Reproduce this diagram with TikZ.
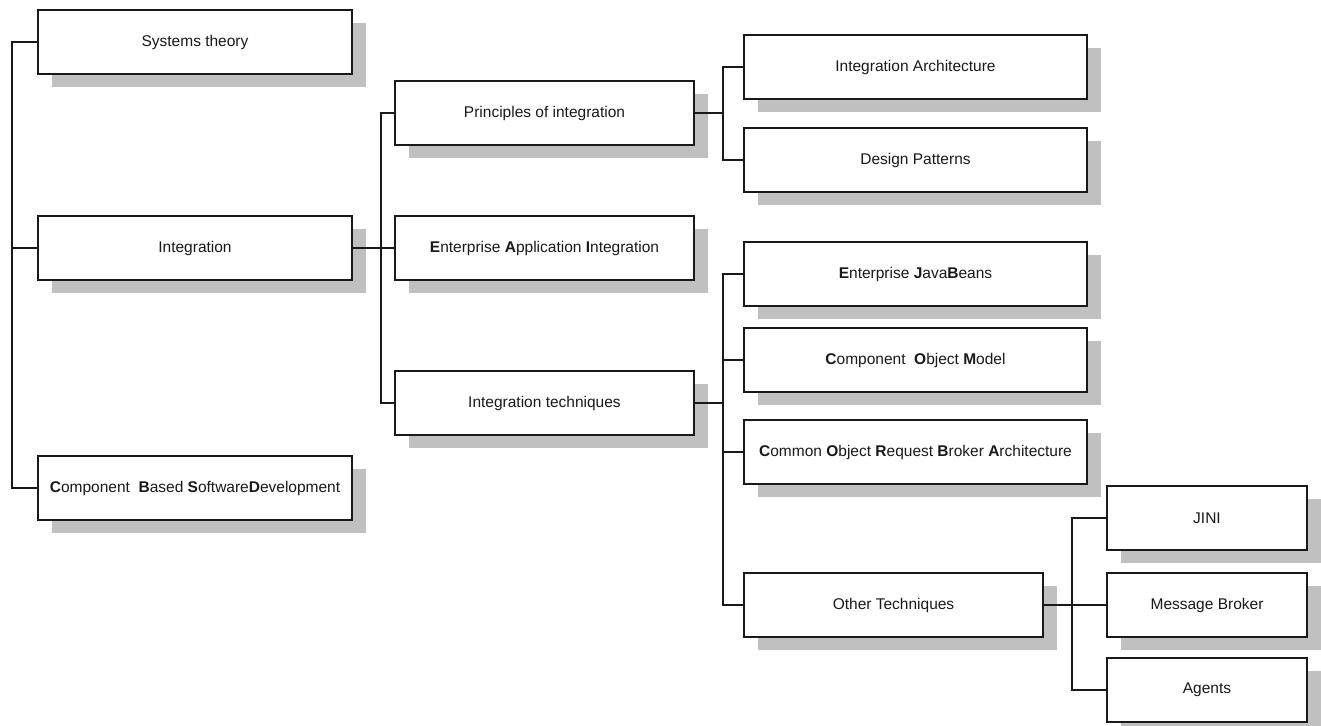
\documentclass[tikz,border=0pt]{standalone}
\usepackage{fontspec}
\setmainfont{Liberation Sans}
\usetikzlibrary{shadows}
\definecolor{shadowgray}{RGB}{192,192,192}
\definecolor{inkcol}{RGB}{25,25,25}
\begin{document}
\begin{tikzpicture}[x=1pt,y=-1pt,
  box/.style={draw=inkcol, line width=1.5pt, fill=white, inner sep=0pt,
    minimum height=64pt, align=center, text=inkcol,
    font=\fontsize{15.5}{18}\selectfont,
    drop shadow={shadow xshift=14pt, shadow yshift=-13pt, fill=shadowgray, opacity=1}},
  lvlA/.style={box, minimum width=314pt},
  lvlB/.style={box, minimum width=299pt},
  lvlC/.style={box, minimum width=343pt},
  lvlD/.style={box, minimum width=200pt},
  link/.style={draw=inkcol, line width=1.2pt}]
\useasboundingbox (0,0) rectangle (1321,725);

% first level
\node[lvlA] (sys)   at (195,42)  {Systems theory};
\node[lvlA] (integ) at (195,248) {Integration};
\node[lvlA] (cbsd)  at (195,488) {\textbf{C}omponent\ \ \textbf{B}ased \textbf{S}oftware\textbf{D}evelopment};

% second level
\node[lvlB] (princ) at (544.5,113) {Principles of integration};
\node[lvlB] (eai)   at (544.5,248) {\textbf{E}nterprise \textbf{A}pplication \textbf{I}ntegration};
\node[lvlB] (itech) at (544.5,403) {Integration techniques};

% third level
\node[lvlC] (ia)    at (915.5,67)  {Integration Architecture};
\node[lvlC] (dp)    at (915.5,160) {Design Patterns};
\node[lvlC] (ejb)   at (915.5,274) {\textbf{E}nterprise \textbf{J}ava\textbf{B}eans};
\node[lvlC] (com)   at (915.5,360) {\textbf{C}omponent\ \ \textbf{O}bject \textbf{M}odel};
\node[lvlC] (corba) at (915.5,452) {\textbf{C}ommon \textbf{O}bject \textbf{R}equest \textbf{B}roker \textbf{A}rchitecture};
\node[lvlB] (other) at (893.5,605) {Other Techniques};

% fourth level
\node[lvlD] (jini)   at (1207,518) {JINI};
\node[lvlD] (mb)     at (1207,605) {Message Broker};
\node[lvlD] (agents) at (1207,690) {Agents};

% bus lines
\coordinate (busA) at (12,0);
\coordinate (busB) at (381,0);
\coordinate (busC) at (723,0);
\coordinate (busD) at (1072,0);

\draw[link] (sys.west) -- (sys.west -| busA) -- (cbsd.west -| busA) -- (cbsd.west);
\draw[link] (integ.west) -- (integ.west -| busA);

\draw[link] (princ.west) -- (princ.west -| busB) -- (itech.west -| busB) -- (itech.west);
\draw[link] (integ.east) -- (eai.west);

\draw[link] (ia.west) -- (ia.west -| busC) -- (dp.west -| busC) -- (dp.west);
\draw[link] (princ.east) -- (princ.east -| busC);

\draw[link] (ejb.west) -- (ejb.west -| busC) -- (other.west -| busC) -- (other.west);
\draw[link] (com.west) -- (com.west -| busC);
\draw[link] (corba.west) -- (corba.west -| busC);
\draw[link] (itech.east) -- (itech.east -| busC);

\draw[link] (jini.west) -- (jini.west -| busD) -- (agents.west -| busD) -- (agents.west);
\draw[link] (other.east) -- (mb.west);
\end{tikzpicture}
\end{document}
